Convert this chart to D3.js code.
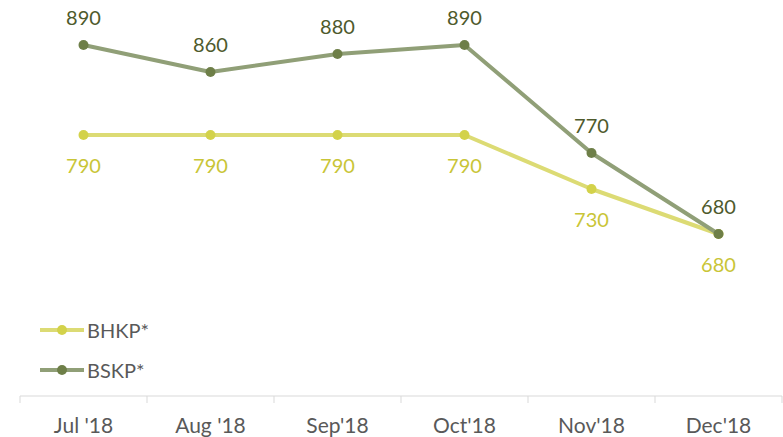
<!DOCTYPE html>
<html><head><meta charset="utf-8">
<script src="https://cdn.jsdelivr.net/npm/d3@7/dist/d3.min.js"></script>
<style>body{margin:0;background:#fff}svg{display:block}</style>
</head><body>
<svg id="c" width="783" height="437"></svg>
<script>
const categories = ["Jul '18", "Aug '18", "Sep'18", "Oct'18", "Nov'18", "Dec'18"];
const seriesNames = ["BHKP*", "BSKP*"];
const bhkp = [790, 790, 790, 790, 730, 680];
const bskp = [890, 860, 880, 890, 770, 680];

const svg = d3.select("#c");
const font = "Lato, 'Open Sans', sans-serif";
const x = d3.scaleBand().domain(categories).range([20, 782]);
const y = d3.scaleLinear().domain([500, 900]).range([396, 36]);
const cx = d => x(d) + x.bandwidth() / 2;

const series = [
  {name: seriesNames[0], values: bhkp, line: "#dcdb74", marker: "#d3d24a", label: "#c9c537", dy: 30},
  {name: seriesNames[1], values: bskp, line: "#909f77", marker: "#6e7f48", label: "#4e5a2c", dy: -28}
];

// axis
svg.append("line").attr("x1", 20).attr("x2", 782).attr("y1", 396).attr("y2", 396)
  .attr("stroke", "#d9d9d9").attr("stroke-width", 1);
const bounds = categories.map(c => x(c)).concat([782]);
svg.selectAll(".tk").data(bounds).join("line")
  .attr("x1", d => d).attr("x2", d => d).attr("y1", 396).attr("y2", 403)
  .attr("stroke", "#d9d9d9");
svg.selectAll(".xl").data(categories).join("text")
  .attr("x", d => cx(d)).attr("y", 433).attr("text-anchor", "middle")
  .attr("font-family", font).attr("font-size", 21).attr("fill", "#595959").text(d => d);

const line = d3.line().x((d, i) => cx(categories[i])).y(d => y(d));
series.forEach(s => {
  const g = svg.append("g");
  g.append("path").datum(s.values).attr("d", line).attr("fill", "none")
    .attr("stroke", s.line).attr("stroke-width", 4).attr("stroke-linejoin", "round");
  g.selectAll("circle").data(s.values).join("circle")
    .attr("cx", (d, i) => cx(categories[i])).attr("cy", d => y(d)).attr("r", 5)
    .attr("fill", s.marker);
  g.selectAll("text").data(s.values).join("text")
    .attr("x", (d, i) => cx(categories[i])).attr("y", d => y(d) + s.dy)
    .attr("dominant-baseline", "central").attr("text-anchor", "middle")
    .attr("font-family", font).attr("font-size", 20).attr("fill", s.label).text(d => d);
});

// legend
series.forEach((s, i) => {
  const ly = 330 + i * 40;
  svg.append("line").attr("x1", 40).attr("x2", 84).attr("y1", ly).attr("y2", ly)
    .attr("stroke", s.line).attr("stroke-width", 4);
  svg.append("circle").attr("cx", 62).attr("cy", ly).attr("r", 5).attr("fill", s.marker);
  svg.append("text").attr("x", 87).attr("y", ly).attr("dominant-baseline", "central")
    .attr("font-family", font).attr("font-size", 20).attr("fill", "#595959").text(s.name);
});
</script>
</body></html>
